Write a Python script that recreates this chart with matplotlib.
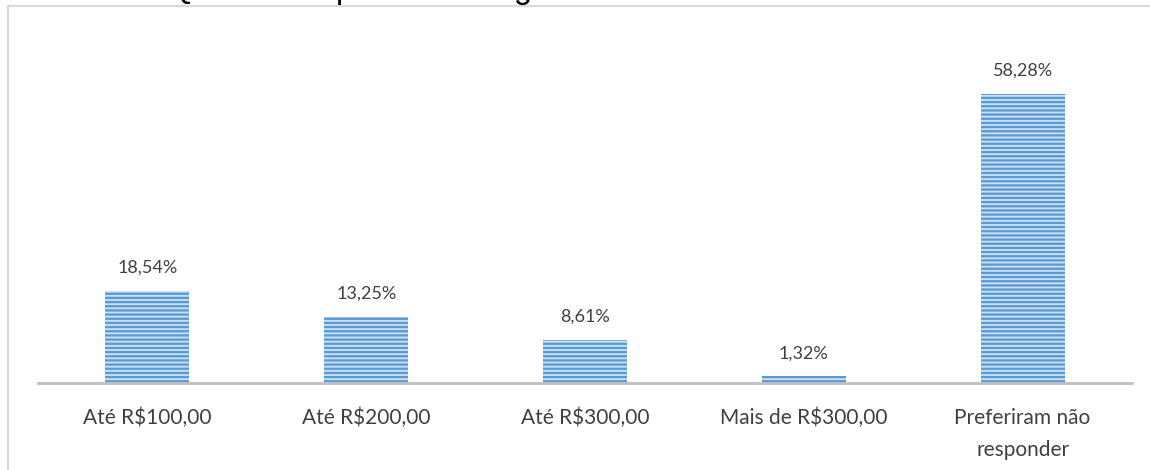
import matplotlib.pyplot as plt
from matplotlib.patches import Rectangle

# categories and values
categorias = ["Até R$100,00", "Até R$200,00", "Até R$300,00",
              "Mais de R$300,00", "Preferiram não\nresponder"]
valores = [18.54, 13.25, 8.61, 1.32, 58.28]
rotulos = ["18,54%", "13,25%", "8,61%", "1,32%", "58,28%"]
titulo = "Gráfico 4 – Qual a sua previsão de gasto no evento"

plt.rcParams['font.family'] = ['Lato', 'DejaVu Sans']
plt.rcParams['hatch.linewidth'] = 1.7
textColor = '#404040'

fig = plt.figure(figsize=(11.5, 4.7), dpi=100)
W, H = 1150, 470

# light frame around the chart (runs off the right and bottom edges)
frame = Rectangle((8/W, -0.1), 1.2, 1.1 - 6/H, transform=fig.transFigure,
                  fill=False, edgecolor='#d9d9d9', linewidth=1.5, clip_on=False)
fig.patches.append(frame)

# title sits above the crop, only its lower part shows
fig.text(0/W, 1 + 2.5/H, titulo, fontsize=23.5, color='black',
         family=['Liberation Sans', 'DejaVu Sans'], ha='left', va='baseline')

ax = fig.add_axes([38/W, 1 - 383/H, 1094/W, 333/H])
ax.set_facecolor('none')
x = list(range(len(categorias)))
bars = ax.bar(x, valores, width=0.384, color='#cfe2f3', edgecolor='#5b9bd5',
              linewidth=0, hatch='----')

for b, lab in zip(bars, rotulos):
    ax.annotate(lab, (b.get_x() + b.get_width()/2, b.get_height()),
                xytext=(0, 11), textcoords='offset points',
                ha='center', va='bottom', fontsize=13, color=textColor)

ax.set_xlim(-0.5, len(categorias) - 0.5)
ax.set_ylim(0, 67.15)
ax.set_xticks(x)
ax.set_xticklabels(categorias, fontsize=15, color=textColor, linespacing=1.75)
ax.tick_params(axis='x', length=0, pad=18)
ax.set_yticks([])
for s in ['top', 'left', 'right']:
    ax.spines[s].set_visible(False)
ax.spines['bottom'].set_color('#bfbfbf')
ax.spines['bottom'].set_linewidth(2)

fig.savefig('out.png', dpi=100)
